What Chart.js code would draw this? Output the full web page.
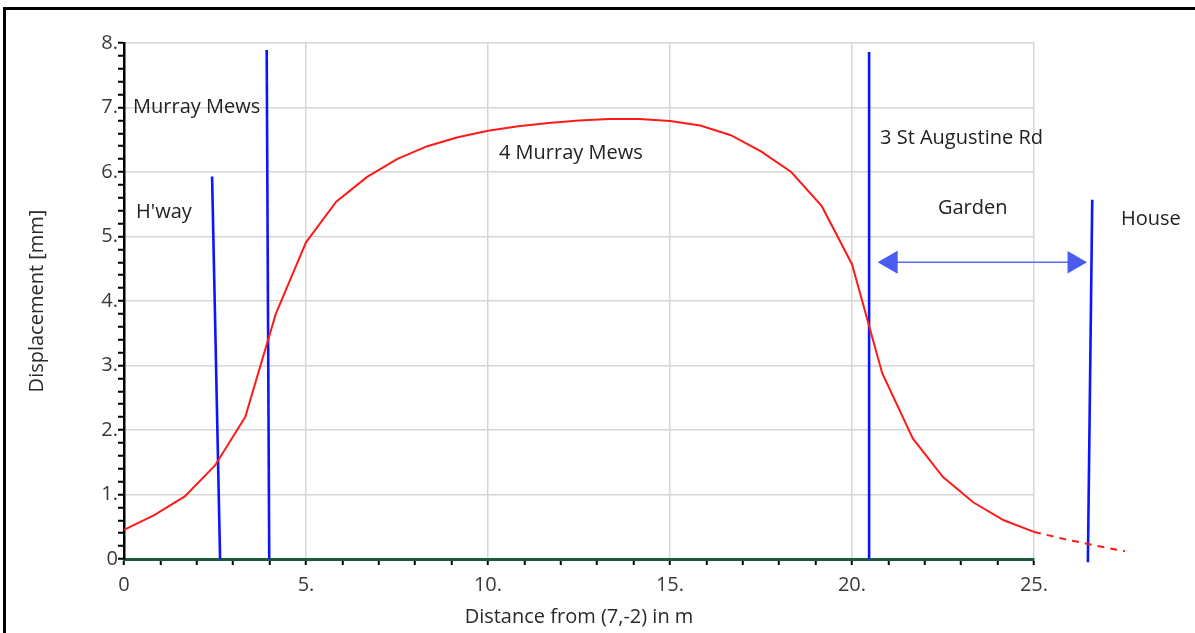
<!DOCTYPE html>
<html>
<head>
<meta charset="utf-8">
<script src="https://cdn.jsdelivr.net/npm/chart.js@4"></script>
<style>
  html, body { margin: 0; padding: 0; background: #fff; overflow: hidden; }
  #frame {
    position: absolute; left: 3px; top: 7px; width: 1300px; height: 700px;
    border-top: 3px solid #000; border-left: 3px solid #000;
  }
  #wrap { position: absolute; left: 0; top: 0; width: 1195px; height: 633px; }
</style>
</head>
<body>
<div id="frame"></div>
<div id="wrap"><canvas id="chart" width="1195" height="633"></canvas></div>
<script>
// profile along the section line (m) and settlement (mm)
const distance = [0, 0.83, 1.67, 2.5, 3.33, 4.17, 5, 5.83, 6.67, 7.5, 8.33, 9.17, 10, 10.83, 11.67,
  12.5, 13.33, 14.17, 15, 15.83, 16.67, 17.5, 18.33, 19.17, 20, 20.83, 21.67, 22.5, 23.33, 24.17, 25,
  25.83, 26.67, 27.5];
const displacement = [0.45, 0.68, 0.97, 1.45, 2.2, 3.8, 4.91, 5.54, 5.92, 6.2, 6.4, 6.54, 6.64, 6.71, 6.76,
  6.8, 6.82, 6.82, 6.79, 6.72, 6.57, 6.32, 6.0, 5.47, 4.57, 2.88, 1.87, 1.27, 0.88, 0.6, 0.42,
  0.31, 0.21, 0.12];

// property boundaries (drawn as blue lines)
const boundaryX = [[2.42, 2.64], [3.92, 3.99], [20.47, 20.47], [26.6, 26.48]];
const boundaryY = [[5.93, 0], [7.89, 0], [7.86, 0], [5.57, -0.05]];

// garden arrow
const gardenX = [21.07, 26.1];
const gardenY = [4.6, 4.6];

// text labels
const labelText = ["Murray Mews", "H'way", "4 Murray Mews", "3 St Augustine Rd", "Garden", "House"];
const labelX = [0.25, 0.33, 10.3, 20.77, 22.36, 27.39];
const labelY = [7.0, 5.38, 6.29, 6.53, 5.44, 5.26];

const X_MAX = 25;
const FONT = "'Open Sans', 'Noto Sans', sans-serif";

const isWhole = (v) => Math.abs(v - Math.round(v)) < 1e-6;
const fmt = (v) => (Math.round(v) === 0 ? "0" : Math.round(v) + ".");

const toPoints = (xs, ys) => xs.map((x, i) => ({ x: x, y: ys[i] }));

const datasets = [];
datasets.push({
  data: toPoints(distance, displacement),
  borderColor: "#ff1a1a",
  borderWidth: 2,
  pointRadius: 0,
  clip: false,
  segment: {
    borderDash: (ctx) => (ctx.p0.parsed.x >= X_MAX - 1e-6 ? [7, 6] : undefined)
  }
});
boundaryX.forEach((xs, i) => {
  datasets.push({
    data: toPoints(xs, boundaryY[i]),
    borderColor: "#0b16ff",
    borderWidth: 2.6,
    pointRadius: 0,
    clip: false
  });
});
const ARROW = datasets.length;
datasets.push({
  data: toPoints(gardenX, gardenY),
  borderColor: "#5a6cf2",
  borderWidth: 1.6,
  pointStyle: "triangle",
  pointRadius: 13,
  pointRotation: [-90, 90],
  pointBackgroundColor: "#4a5cf0",
  pointBorderWidth: 0,
  clip: false
});

// labels placed in data units; arrow heads redrawn without the chart-area check
const labelPlugin = {
  id: "labels",
  afterDatasetsDraw(chart) {
    const { ctx, scales } = chart;
    chart.getDatasetMeta(ARROW).data.forEach((p) => p.draw(ctx));
    ctx.save();
    ctx.font = "20px " + FONT;
    ctx.fillStyle = "#222";
    ctx.textAlign = "left";
    ctx.textBaseline = "middle";
    labelText.forEach((t, i) => {
      ctx.fillText(t, scales.x.getPixelForValue(labelX[i]), scales.y.getPixelForValue(labelY[i]));
    });
    ctx.restore();
  }
};

new Chart(document.getElementById("chart"), {
  type: "line",
  data: { datasets: datasets },
  options: {
    responsive: false,
    animation: false,
    events: [],
    layout: { padding: { left: 0, top: 43, right: 161, bottom: 0 } },
    plugins: { legend: { display: false }, tooltip: { enabled: false } },
    scales: {
      x: {
        type: "linear",
        // range set here so the points past 25 are still drawn
        afterDataLimits: (s) => { s.min = 0; s.max = X_MAX; },
        afterFit: (s) => { s.height = 74; },
        ticks: {
          stepSize: 1,
          autoSkip: false,
          maxRotation: 0,
          padding: 8,
          color: "#3a3a3a",
          font: { family: FONT, size: 20 },
          callback: (v) => (isWhole(v / 5) ? fmt(v) : "")
        },
        grid: {
          color: (c) => (c.tick && isWhole(c.tick.value / 5) ? "#d6d6d6" : "rgba(0,0,0,0)"),
          lineWidth: 1.5,
          tickColor: "#000",
          tickLength: 6,
          tickWidth: 2
        },
        border: { color: "#1b5a3a", width: 3 },
        title: {
          display: true,
          text: "Distance from (7,-2) in m",
          color: "#2a2a2a",
          font: { family: FONT, size: 20 },
          padding: { top: 0, bottom: 4 }
        }
      },
      y: {
        min: 0,
        max: 8,
        afterFit: (s) => { s.width = 124; },
        ticks: {
          stepSize: 0.2,
          autoSkip: false,
          padding: 0,
          color: "#3a3a3a",
          font: { family: FONT, size: 20 },
          callback: (v) => (isWhole(v) ? fmt(v) : "")
        },
        grid: {
          color: (c) => (c.tick && isWhole(c.tick.value) ? "#d6d6d6" : "rgba(0,0,0,0)"),
          lineWidth: 1.5,
          tickColor: "#000",
          tickLength: 6,
          tickWidth: 2
        },
        border: { color: "#000", width: 2.5 },
        title: {
          display: true,
          text: "Displacement [mm]",
          color: "#2a2a2a",
          font: { family: FONT, size: 20 },
          padding: { top: 25, bottom: 0 }
        }
      }
    }
  },
  plugins: [labelPlugin]
});
</script>
</body>
</html>
